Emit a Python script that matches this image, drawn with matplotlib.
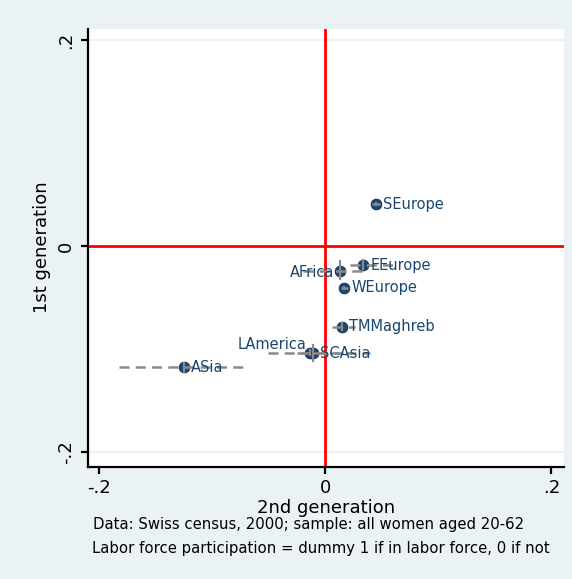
import matplotlib
matplotlib.use("Agg")
import matplotlib.pyplot as plt

# ---- data ----
regions = ["SEurope", "EEurope", "AFrica", "WEurope", "TMMaghreb", "LAmerica", "SCAsia", "ASia"]
gen2 = [0.0444, 0.0335, 0.0128, 0.0166, 0.0149, -0.0135, -0.0110, -0.1250]
gen1 = [0.0408, -0.0185, -0.0240, -0.0405, -0.0784, -0.1040, -0.1040, -0.1180]
gen2_lo = [0.0410, 0.0215, -0.0200, 0.0140, 0.0060, -0.0510, -0.0250, -0.1830]
gen2_hi = [0.0480, 0.0600, 0.0370, 0.0195, 0.0260, 0.0230, 0.0390, -0.0680]
gen1_lo = [0.0400, -0.0220, -0.0320, -0.0415, -0.0820, -0.1060, -0.1120, -0.1220]
gen1_hi = [0.0416, -0.0140, -0.0150, -0.0395, -0.0750, -0.1010, -0.0960, -0.1140]
label_pos = ["r", "r", "l", "r", "r", "ul", "r", "r"]
xticks = [-0.2, 0, 0.2]
xticklabels = ["-.2", "0", ".2"]
yticks = [-0.2, 0, 0.2]
yticklabels = ["-.2", "0", ".2"]

BG = "#EAF2F3"
NAVY = "#1A476F"
GRAY = "#8A8A8A"

plt.rcParams["font.family"] = ["DejaVu Sans"]
fig = plt.figure(figsize=(5.72, 5.79), dpi=100, facecolor=BG)
ax = fig.add_axes([87.5 / 572, 1 - 466.7 / 579, (564 - 87.5) / 572, (466.7 - 28.5) / 579])
ax.set_facecolor("white")
ax.set_xlim(-0.2106, 0.2111)
ax.set_ylim(-0.2145, 0.2114)

for s in ["top", "right"]:
    ax.spines[s].set_visible(False)
for s in ["left", "bottom"]:
    ax.spines[s].set_color("black")
    ax.spines[s].set_linewidth(1.6)

# grid at major y ticks
for yv in yticks:
    if yv != 0:
        ax.axhline(yv, color=BG, lw=1.5, zorder=0.5)

ax.axvline(0, color="red", lw=2, zorder=1)
ax.axhline(0, color="red", lw=2, zorder=1)

ax.scatter(gen2, gen1, s=60, color=NAVY, edgecolor="#0f2f4c", linewidth=0.6, zorder=3)

for i in range(len(regions)):
    ax.plot([gen2_lo[i], gen2_hi[i]], [gen1[i], gen1[i]], color=GRAY, lw=1.8,
            ls=(0, (4, 2.5)), zorder=4)
    ax.plot([gen2[i], gen2[i]], [gen1_lo[i], gen1_hi[i]], color=GRAY, lw=1.6, zorder=4)

for i, name in enumerate(regions):
    p = label_pos[i]
    if p == "r":
        ax.annotate(name, (gen2[i], gen1[i]), xytext=(5, 0), textcoords="offset points",
                    ha="left", va="center", color=NAVY, fontsize=10.5, zorder=5)
    elif p == "l":
        ax.annotate(name, (gen2[i], gen1[i]), xytext=(-4, -1), textcoords="offset points",
                    ha="right", va="center", color=NAVY, fontsize=10.5, zorder=5)
    else:
        ax.annotate(name, (gen2[i], gen1[i]), xytext=(-3, 0.5), textcoords="offset points",
                    ha="right", va="bottom", color=NAVY, fontsize=10.5, zorder=5)

ax.set_xticks(xticks)
ax.set_xticklabels(xticklabels, fontsize=13)
ax.set_yticks(yticks)
ax.set_yticklabels(yticklabels, fontsize=13, rotation=90, va="center")
ax.tick_params(axis="both", direction="out", length=5, width=1.6, color="black", pad=4)

ax.set_xlabel("2nd generation", fontsize=13, labelpad=1)
ax.set_ylabel("1st generation", fontsize=13, labelpad=4)

fig.text(93 / 572, 1 - 525 / 579, "Data: Swiss census, 2000; sample: all women aged 20-62",
         fontsize=10.75, ha="left", va="center")
fig.text(92 / 572, 1 - 549 / 579, "Labor force participation = dummy 1 if in labor force, 0 if not",
         fontsize=10.75, ha="left", va="center")

fig.savefig("out.png", dpi=100, facecolor=BG)
